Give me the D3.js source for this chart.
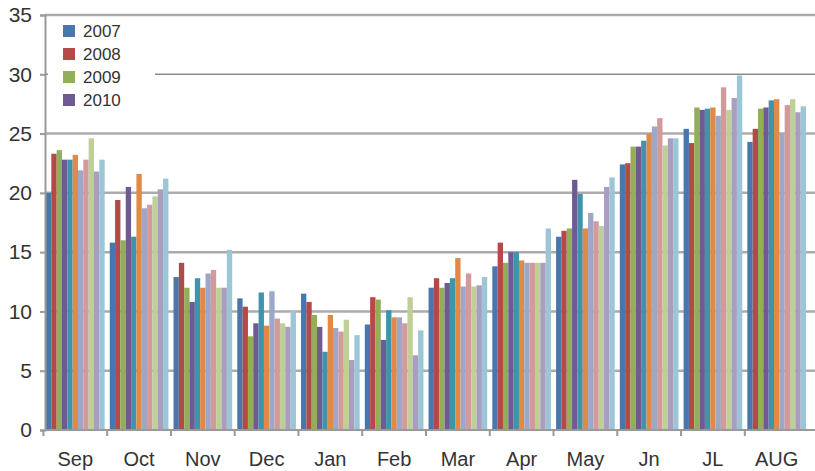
<!DOCTYPE html>
<html>
<head>
<meta charset="utf-8">
<script src="https://cdn.jsdelivr.net/npm/d3@7"></script>
<style>
  body { margin: 0; background: #fff; }
  text { font-family: "Liberation Sans", "DejaVu Sans", sans-serif; }
</style>
</head>
<body>
<svg id="chart"></svg>
<script>
var w = 815;
var h = 471;

var months = ["Sep", "Oct", "Nov", "Dec", "Jan", "Feb", "Mar", "Apr", "May", "Jn", "JL", "AUG"];
var legendNames = ["2007", "2008", "2009", "2010"];
var yTicks = [0, 5, 10, 15, 20, 25, 30, 35];

// one array per bar slot in a month group (11 bars per month)
var s1  = [20.0, 15.8, 12.9, 11.1, 11.5, 8.9, 12.0, 13.8, 16.3, 22.4, 25.4, 24.3];
var s2  = [23.3, 19.4, 14.1, 10.4, 10.8, 11.2, 12.8, 15.8, 16.8, 22.5, 24.2, 25.4];
var s3  = [23.6, 16.0, 12.0, 7.9, 9.7, 11.0, 12.0, 14.1, 17.0, 23.9, 27.2, 27.1];
var s4  = [22.8, 20.5, 10.8, 9.0, 8.7, 7.6, 12.4, 15.0, 21.1, 23.9, 27.0, 27.2];
var s5  = [22.8, 16.3, 12.8, 11.6, 6.6, 10.1, 12.8, 15.0, 19.9, 24.4, 27.1, 27.8];
var s6  = [23.2, 21.6, 12.0, 8.8, 9.7, 9.5, 14.5, 14.3, 17.0, 25.0, 27.2, 27.9];
var s7  = [21.9, 18.7, 13.2, 11.7, 8.6, 9.5, 12.1, 14.1, 18.3, 25.6, 26.5, 25.0];
var s8  = [22.8, 19.0, 13.5, 9.4, 8.3, 9.0, 13.2, 14.1, 17.6, 26.3, 28.9, 27.4];
var s9  = [24.6, 19.7, 12.0, 9.0, 9.3, 11.2, 12.1, 14.1, 17.2, 24.0, 27.0, 27.9];
var s10 = [21.8, 20.3, 12.0, 8.7, 5.9, 6.3, 12.2, 14.1, 20.5, 24.6, 28.0, 26.8];
var s11 = [22.8, 21.2, 15.2, 10.1, 8.0, 8.4, 12.9, 17.0, 21.3, 24.6, 29.9, 27.3];

var series = [s1, s2, s3, s4, s5, s6, s7, s8, s9, s10, s11];
var colors = ["#4A76AE", "#B24A47", "#93AE58", "#6F5A94", "#3F93AD", "#E08A45",
              "#9DA8C8", "#D4999A", "#BFCF98", "#A99DC0", "#9CC6D6"];

var svg = d3.select("#chart")
    .attr("width", w)
    .attr("height", h);

var x0 = d3.scaleBand()
    .domain(months)
    .range([46, 806])
    .paddingInner(0.08)
    .paddingOuter(0);

var x1 = d3.scaleBand()
    .domain(d3.range(series.length))
    .range([0, x0.bandwidth()]);

var y = d3.scaleLinear()
    .domain([0, 35])
    .range([430, 15]);

//gridlines, the odd ones drawn thinner like in the source picture
svg.append("g")
    .selectAll("line")
    .data(yTicks.filter(function (d) { return d > 0; }))
    .enter()
    .append("line")
    .attr("x1", 45)
    .attr("x2", w)
    .attr("y1", function (d) { return y(d); })
    .attr("y2", function (d) { return y(d); })
    .style("stroke", function (d) { return d == 30 ? "#8c8c8c" : "#ababab"; })
    .style("stroke-width", function (d) { return d == 30 ? 1.5 : 2.5; });

//bars, grouped by month
var groups = svg.append("g")
    .selectAll("g")
    .data(months)
    .enter()
    .append("g")
    .attr("transform", function (d) { return "translate(" + x0(d) + ",0)"; });

groups.selectAll("rect")
    .data(function (d, i) {
        return series.map(function (s, j) { return { k: j, v: s[i] }; });
    })
    .enter()
    .append("rect")
    .attr("x", function (d) { return x1(d.k); })
    .attr("width", x1.bandwidth())
    .attr("y", function (d) { return y(d.v); })
    .attr("height", function (d) { return y(0) - y(d.v); })
    .style("fill", function (d) { return colors[d.k]; });

//y axis
var yAxis = svg.append("g")
    .attr("transform", "translate(45,0)")
    .call(d3.axisLeft(y).tickValues(yTicks).tickSize(5).tickPadding(8));
yAxis.select(".domain").style("stroke", "#999").style("stroke-width", 2);
yAxis.selectAll(".tick line").style("stroke", "#999").style("stroke-width", 2);
yAxis.selectAll("text")
    .style("font-size", "21px")
    .style("fill", "#333");

//x axis, ticks on the group boundaries
var xAxis = svg.append("g")
    .attr("transform", "translate(0,430)");
xAxis.append("line")
    .attr("x1", 45).attr("x2", w)
    .style("stroke", "#999").style("stroke-width", 2);
xAxis.selectAll(".bound")
    .data(months)
    .enter()
    .append("line")
    .attr("class", "bound")
    .attr("x1", function (d) { return x0(d) - x0.step() * x0.paddingInner() / 2; })
    .attr("x2", function (d) { return x0(d) - x0.step() * x0.paddingInner() / 2; })
    .attr("y1", 0).attr("y2", 6)
    .style("stroke", "#999").style("stroke-width", 2);
xAxis.selectAll("text")
    .data(months)
    .enter()
    .append("text")
    .attr("x", function (d) { return x0(d) + x0.bandwidth() / 2; })
    .attr("y", 36)
    .attr("text-anchor", "middle")
    .style("font-size", "20px")
    .style("fill", "#333")
    .text(function (d) { return d; });

//legend
var legend = svg.append("g");
legend.append("rect")
    .attr("x", 48).attr("y", 17)
    .attr("width", 107).attr("height", 96)
    .style("fill", "#fff");
var items = legend.selectAll(".item")
    .data(legendNames)
    .enter()
    .append("g")
    .attr("class", "item")
    .attr("transform", function (d, i) { return "translate(63," + (31 + i * 23) + ")"; });
items.append("rect")
    .attr("x", 0).attr("y", -6)
    .attr("width", 12).attr("height", 12)
    .style("fill", function (d, i) { return colors[i]; });
items.append("text")
    .attr("x", 20)
    .attr("y", 6)
    .style("font-size", "17px")
    .style("fill", "#333")
    .text(function (d) { return d; });
</script>
</body>
</html>
